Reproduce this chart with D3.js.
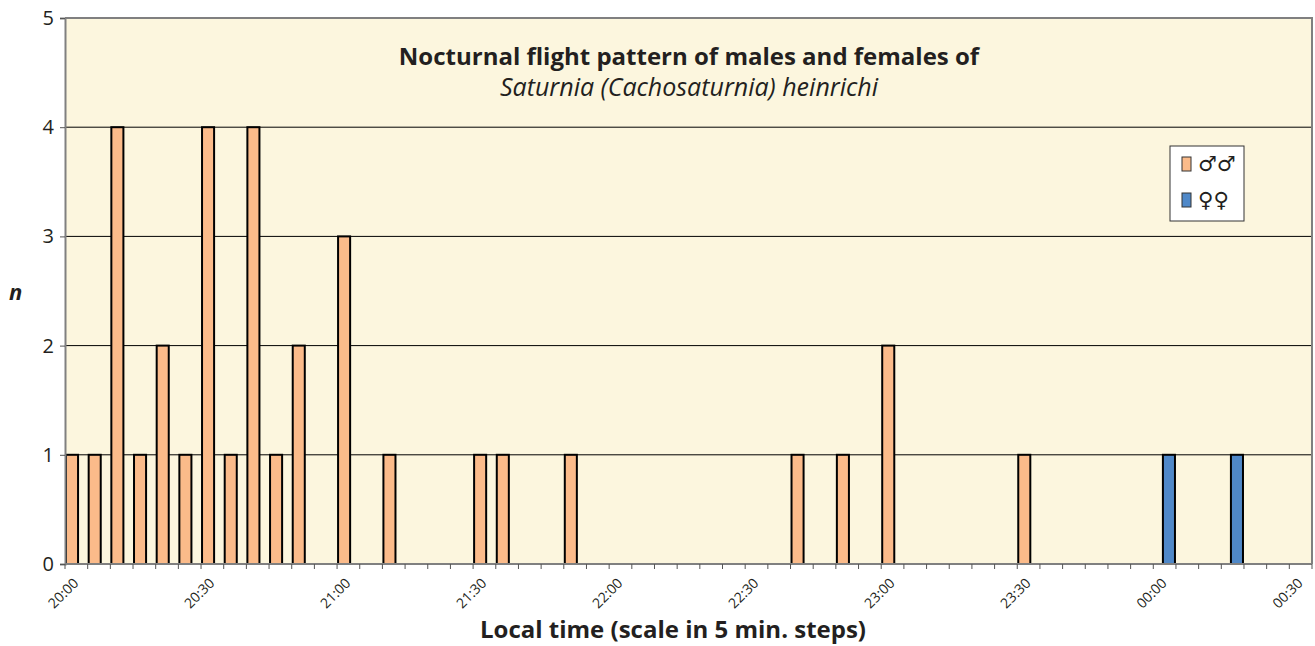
<!DOCTYPE html>
<html>
<head>
<meta charset="utf-8">
<script src="https://cdn.jsdelivr.net/npm/d3@7"></script>
<style>
  body { margin: 0; background: #fff; }
  text { font-family: "Open Sans", "Noto Sans", sans-serif; fill: #231f20; }
</style>
</head>
<body>
<div id="chart"></div>
<script>
// categories: 5 minute steps from 20:00 to 00:30
var times = ["20:00","20:05","20:10","20:15","20:20","20:25","20:30","20:35","20:40","20:45","20:50","20:55",
             "21:00","21:05","21:10","21:15","21:20","21:25","21:30","21:35","21:40","21:45","21:50","21:55",
             "22:00","22:05","22:10","22:15","22:20","22:25","22:30","22:35","22:40","22:45","22:50","22:55",
             "23:00","23:05","23:10","23:15","23:20","23:25","23:30","23:35","23:40","23:45","23:50","23:55",
             "00:00","00:05","00:10","00:15","00:20","00:25","00:30"];

// number of males per step
var males = [1,1,4,1,2,1,4,1,4,1,2,0,
             3,0,1,0,0,0,1,1,0,0,1,0,
             0,0,0,0,0,0,0,0,1,0,1,0,
             2,0,0,0,0,0,1,0,0,0,0,0,
             0,0,0,0,0,0,0];

// number of females per step
var females = [0,0,0,0,0,0,0,0,0,0,0,0,
               0,0,0,0,0,0,0,0,0,0,0,0,
               0,0,0,0,0,0,0,0,0,0,0,0,
               0,0,0,0,0,0,0,0,0,0,0,0,
               1,0,0,1,0,0,0];

var tickLabels = ["20:00","20:30","21:00","21:30","22:00","22:30","23:00","23:30","00:00","00:30"];
var yTicks = [0,1,2,3,4,5];

var W = 1315, H = 646;
var margin = {top: 18, right: 3, bottom: 82, left: 65},
    width = W - margin.left - margin.right,
    height = H - margin.top - margin.bottom;

var svg = d3.select("#chart").append("svg")
    .attr("width", W)
    .attr("height", H)
  .append("g")
    .attr("transform", "translate(" + margin.left + "," + margin.top + ")");

var x = d3.scaleBand().domain(times).range([0, width]).padding(0);
var y = d3.scaleLinear().domain([0, 5]).range([height, 0]);

// plot area background
svg.append("rect")
    .attr("width", width)
    .attr("height", height)
    .attr("fill", "#fcf6de");

// gridlines
svg.selectAll(".grid")
    .data(yTicks.filter(function(d) { return d > 0 && d < 5; }))
  .enter().append("line")
    .attr("x1", 0).attr("x2", width)
    .attr("y1", function(d) { return y(d); })
    .attr("y2", function(d) { return y(d); })
    .attr("stroke", "#000")
    .attr("stroke-width", 1);

// top and right border
svg.append("path")
    .attr("d", "M0," + y(5) + "H" + width + "V" + height)
    .attr("fill", "none")
    .attr("stroke", "#808080")
    .attr("stroke-width", 2);

var bw = x.bandwidth() * 0.62;

// males bars (left part of the band)
svg.selectAll(".male")
    .data(times.filter(function(d, i) { return males[i] > 0; }))
  .enter().append("rect")
    .attr("x", function(d) { return x(d) + 1; })
    .attr("y", function(d) { return y(males[times.indexOf(d)]); })
    .attr("width", bw - 2)
    .attr("height", function(d) { return height - y(males[times.indexOf(d)]); })
    .attr("fill", "#fbbb8a")
    .attr("stroke", "#000")
    .attr("stroke-width", 2);

// females bars (right part of the band)
svg.selectAll(".female")
    .data(times.filter(function(d, i) { return females[i] > 0; }))
  .enter().append("rect")
    .attr("x", function(d) { return x(d) + x.bandwidth() - bw + 1; })
    .attr("y", function(d) { return y(females[times.indexOf(d)]); })
    .attr("width", bw - 2)
    .attr("height", function(d) { return height - y(females[times.indexOf(d)]); })
    .attr("fill", "#4f88c8")
    .attr("stroke", "#000")
    .attr("stroke-width", 2);

// y axis
var yAxis = svg.append("g")
    .call(d3.axisLeft(y).tickValues(yTicks).tickSize(5).tickPadding(6).tickFormat(d3.format("d")));
yAxis.select(".domain").attr("stroke", "#808080").attr("stroke-width", 2);
yAxis.selectAll(".tick line").attr("stroke", "#555");
yAxis.selectAll("text").style("font-size", "20px").attr("fill", "#231f20").style("font-family", "Open Sans");

// x axis line
svg.append("line")
    .attr("x1", 0).attr("x2", width)
    .attr("y1", height).attr("y2", height)
    .attr("stroke", "#808080")
    .attr("stroke-width", 2);

// x ticks at band edges
svg.selectAll(".xtick")
    .data(times.concat(["end"]))
  .enter().append("line")
    .attr("x1", function(d) { return d == "end" ? width : x(d); })
    .attr("x2", function(d) { return d == "end" ? width : x(d); })
    .attr("y1", height).attr("y2", height + 5)
    .attr("stroke", "#555");

// x tick labels
svg.selectAll(".xlabel")
    .data(tickLabels)
  .enter().append("text")
    .attr("transform", function(d) {
      return "translate(" + (x(d) + x.bandwidth() / 2 + 3) + "," + (height + 20) + ") rotate(-45)";
    })
    .attr("text-anchor", "end")
    .style("font-size", "14px")
    .text(function(d) { return d; });

// title
svg.append("text")
    .attr("x", 624).attr("y", 47)
    .attr("text-anchor", "middle")
    .style("font-size", "24px").style("font-weight", "bold")
    .text("Nocturnal flight pattern of males and females of");
svg.append("text")
    .attr("x", 624).attr("y", 78)
    .attr("text-anchor", "middle")
    .style("font-size", "25px").style("font-style", "italic")
    .text("Saturnia (Cachosaturnia) heinrichi");

// axis titles
svg.append("text")
    .attr("x", -56).attr("y", 282)
    .style("font-size", "22px").style("font-weight", "bold").style("font-style", "italic")
    .text("n");
svg.append("text")
    .attr("x", 608).attr("y", 620)
    .attr("text-anchor", "middle")
    .style("font-size", "24px").style("font-weight", "bold")
    .text("Local time (scale in 5 min. steps)");

// legend
var legend = svg.append("g").attr("transform", "translate(1105,128)");
legend.append("rect")
    .attr("width", 74).attr("height", 75)
    .attr("fill", "#fff").attr("stroke", "#333").attr("stroke-width", 1);
var legendItems = [{label: "\u2642\u2642", color: "#fbbb8a"}, {label: "\u2640\u2640", color: "#4f88c8"}];
legend.selectAll(".sw")
    .data(legendItems)
  .enter().append("rect")
    .attr("x", 12).attr("y", function(d, i) { return 11 + i * 36; })
    .attr("width", 9).attr("height", 14)
    .attr("fill", function(d) { return d.color; })
    .attr("stroke", "#333").attr("stroke-width", 1);
legend.selectAll(".lt")
    .data(legendItems)
  .enter().append("text")
    .attr("x", 28).attr("y", function(d, i) { return 25 + i * 36; })
    .style("font-size", "21px").style("font-family", "DejaVu Sans")
    .text(function(d) { return d.label; });
</script>
</body>
</html>
